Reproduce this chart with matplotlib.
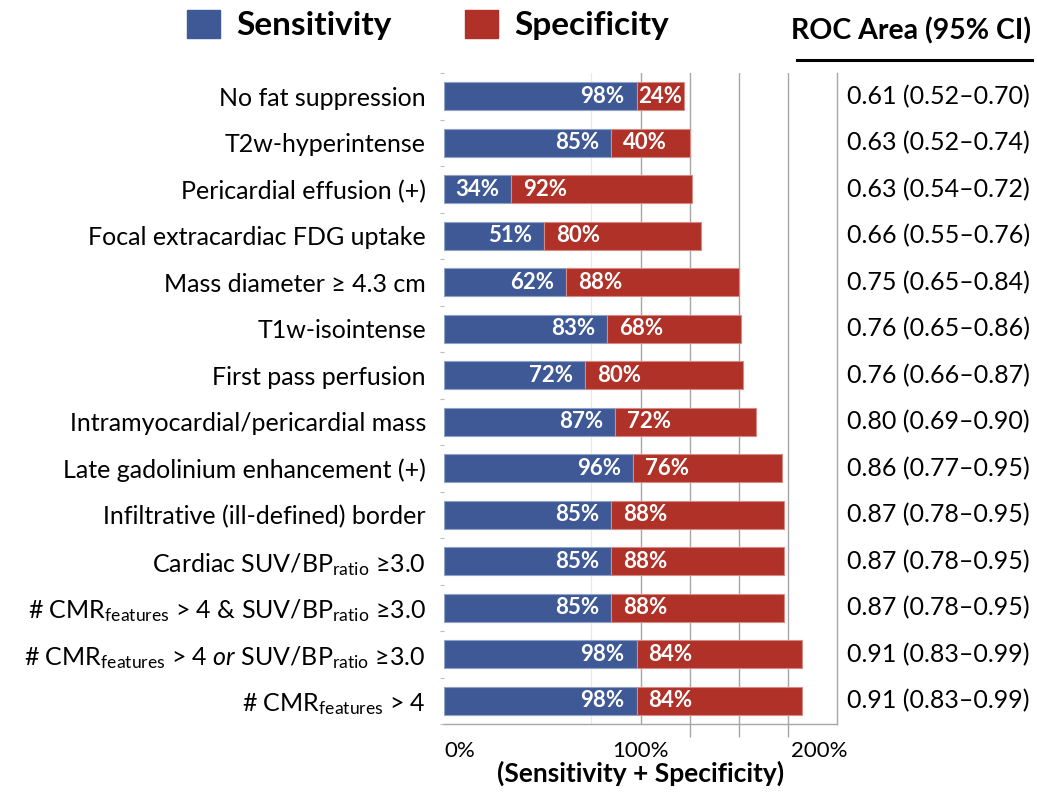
import matplotlib
matplotlib.use("Agg")
import matplotlib.pyplot as plt
from matplotlib.patches import Patch
from matplotlib.lines import Line2D
import matplotlib.transforms as mtransforms

plt.rcParams['font.family'] = ['Lato', 'DejaVu Sans']
plt.rcParams['mathtext.fontset'] = 'custom'
plt.rcParams['mathtext.rm'] = 'Lato'
plt.rcParams['mathtext.it'] = 'Lato:italic'
plt.rcParams['mathtext.bf'] = 'Lato:bold'

categories = [
    "No fat suppression",
    "T2w-hyperintense",
    "Pericardial effusion (+)",
    "Focal extracardiac FDG uptake",
    "Mass diameter \u2265 4.3 cm",
    "T1w-isointense",
    "First pass perfusion",
    "Intramyocardial/pericardial mass",
    "Late gadolinium enhancement (+)",
    "Infiltrative (ill-defined) border",
    "Cardiac SUV/BP$_{\\mathregular{ratio}}$ \u22653.0",
    "# CMR$_{\\mathregular{features}}$ > 4 & SUV/BP$_{\\mathregular{ratio}}$ \u22653.0",
    "# CMR$_{\\mathregular{features}}$ > 4 $\\mathit{or}$ SUV/BP$_{\\mathregular{ratio}}$ \u22653.0",
    "# CMR$_{\\mathregular{features}}$ > 4",
]
sensitivity = [98, 85, 34, 51, 62, 83, 72, 87, 96, 85, 85, 85, 98, 98]
specificity = [24, 40, 92, 80, 88, 68, 80, 72, 76, 88, 88, 88, 84, 84]
roc_area = [
    "0.61 (0.52\u20130.70)", "0.63 (0.52\u20130.74)", "0.63 (0.54\u20130.72)",
    "0.66 (0.55\u20130.76)", "0.75 (0.65\u20130.84)", "0.76 (0.65\u20130.86)",
    "0.76 (0.66\u20130.87)", "0.80 (0.69\u20130.90)", "0.86 (0.77\u20130.95)",
    "0.87 (0.78\u20130.95)", "0.87 (0.78\u20130.95)", "0.87 (0.78\u20130.95)",
    "0.91 (0.83\u20130.99)", "0.91 (0.83\u20130.99)",
]
xticks = [0, 100, 200]
xticklabels = ["0%", "100%", "200%"]

BLUE = "#3E5996"
RED = "#AF3128"
GRID = "#A6A6A6"

W, H = 1037, 792
fig = plt.figure(figsize=(W / 100, H / 100), dpi=100)
ax = fig.add_axes([444 / W, 1 - 724 / H, (837 - 444) / W, (724 - 73) / H])

n = len(categories)
ypos = list(range(n))

# gridlines
ax.axvline(75, color="#E8E8E8", lw=0.8, zorder=0)
for g in [100, 125, 150, 175]:
    ax.axvline(g, color=GRID, lw=1.0, zorder=0)

bh = 0.6
ax.barh(ypos, sensitivity, height=bh, color=BLUE, edgecolor="#8FA2C8", lw=0.8, zorder=2)
ax.barh(ypos, specificity, left=sensitivity, height=bh, color=RED, edgecolor="#D78A84", lw=0.8, zorder=2)

px_per_unit = (837 - 444) / 200.0
for i in range(n):
    s, p = sensitivity[i], specificity[i]
    ax.annotate(f"{s}%", xy=(s, i), xytext=(-12, 0), textcoords="offset pixels",
                ha="right", va="center", color="white", fontsize=16, fontweight="bold", zorder=3)
    wpx = p * px_per_unit
    off = min(12, max(2, (wpx - 44) / 2))
    ax.annotate(f"{p}%", xy=(s, i), xytext=(off, 0), textcoords="offset pixels",
                ha="left", va="center", color="white", fontsize=16, fontweight="bold", zorder=3)

ax.set_xlim(0, 200)
ax.set_ylim(n - 0.5, -0.5)

for sp in ["top", "left"]:
    ax.spines[sp].set_visible(False)
ax.spines["right"].set_color(GRID)
ax.spines["bottom"].set_color(GRID)
ax.spines["right"].set_linewidth(1.0)
ax.spines["bottom"].set_linewidth(1.0)

ax.set_yticks(ypos)
ax.set_yticklabels(categories, fontsize=18)
ax.tick_params(axis="y", length=0, pad=13)
ax.set_yticks([i + 0.5 for i in range(-1, n)], minor=True)
ax.tick_params(axis="y", which="minor", length=3, color="#BBBBBB", width=0.8)

ax.set_xticks(xticks)
ax.set_xticklabels(xticklabels, fontsize=16)
ax.tick_params(axis="x", which="major", length=0, pad=12)
ax.set_xticks([125, 150, 175, 200], minor=True)
ax.tick_params(axis="x", which="minor", length=9, color=GRID, width=1.0)
labs = ax.get_xticklabels()
labs[0].set_ha("left")
labs[-1].set_ha("right")
labs[-1].set_transform(labs[-1].get_transform() + mtransforms.ScaledTranslation(11 / 100, 0, fig.dpi_scale_trans))
ax.set_xlabel("(Sensitivity + Specificity)", fontsize=19, fontweight="bold", labelpad=0)

# ROC column
trans = mtransforms.blended_transform_factory(fig.transFigure, ax.transData)
for i, r in enumerate(roc_area):
    ax.text(847 / W, i, r, transform=trans, ha="left", va="center", fontsize=18, clip_on=False)

fig.text(911 / W, 1 - 31 / H, "ROC Area (95% CI)", ha="center", va="center",
         fontsize=20.5, fontweight="bold")
fig.add_artist(Line2D([797 / W, 1032 / W], [1 - 60 / H, 1 - 60 / H], color="black", lw=2.2,
                      transform=fig.transFigure))

handles = [Patch(facecolor=BLUE, edgecolor=BLUE, label="Sensitivity"),
           Patch(facecolor=RED, edgecolor=RED, label="Specificity")]
leg = fig.legend(handles=handles, loc="upper left", bbox_to_anchor=(187 / W, 1 - 10 / H),
                 ncol=2, frameon=False, prop={"size": 24, "weight": "bold"},
                 handlelength=1.0, handleheight=0.9, handletextpad=0.48,
                 columnspacing=2.2, borderpad=0, borderaxespad=0)

fig.savefig("out.png", dpi=100)
